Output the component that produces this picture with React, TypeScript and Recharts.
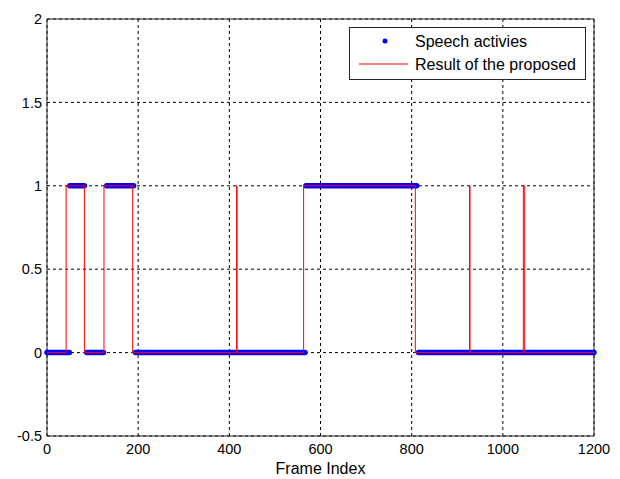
import React from 'react';
import { LineChart, Line, XAxis, YAxis, CartesianGrid, Legend, ReferenceArea, Label } from 'recharts';

const xTicks = [0, 200, 400, 600, 800, 1000, 1200];
const yTicks = [-0.5, 0, 0.5, 1, 1.5, 2];

// Ground-truth speech activity runs (frame ranges)
const speechStarts = [0, 50, 87, 131, 194, 568, 815];
const speechEnds = [49, 82, 124, 190, 566, 811, 1200];
const speechValues = [0, 1, 0, 1, 0, 1, 0];

// Result of the proposed method (step changes)
const resultFrames = [0, 42, 82, 125, 188, 416, 417, 563, 808, 927, 928, 1045, 1048, 1200];
const resultValues = [0, 1, 0, 1, 0, 1, 0, 1, 0, 1, 0, 1, 0, 0];

const legendLabels = ['Speech activies', 'Result of the proposed'];
const xLabel = 'Frame Index';

const resultData = resultFrames.map((f, i) => ({ frame: f, value: resultValues[i] }));
const speechSegments = speechStarts.map((s, i) => [
  { frame: s, value: speechValues[i] },
  { frame: speechEnds[i], value: speechValues[i] },
]);

const FONT = '"Liberation Sans", Arial, sans-serif';

const renderLegend = () => (
  <svg width={237} height={53} style={{ display: 'block' }}>
    <rect x={0.5} y={0.5} width={236} height={52} fill="#fff" stroke="#262626" />
    <circle cx={36} cy={14} r={2.5} fill="#0000ff" />
    <line x1={10} x2={59} y1={37} y2={37} stroke="#ff0000" strokeWidth={1} />
    <text x={66} y={20.4} fontSize={16} fontFamily={FONT} fill="#000">{legendLabels[0]}</text>
    <text x={66} y={43} fontSize={16} fontFamily={FONT} fill="#000">{legendLabels[1]}</text>
  </svg>
);

export default function App() {
  return (
    <div style={{ position: 'absolute', left: 0, top: 0, width: 620, height: 479, background: '#fff' }}>
      <LineChart width={620} height={479} margin={{ top: 19, right: 26, left: 0, bottom: 0 }}>
        <CartesianGrid stroke="#000" strokeDasharray="3 3" />
        <XAxis
          dataKey="frame"
          type="number"
          domain={[0, 1200]}
          ticks={xTicks}
          height={43}
          axisLine={false}
          tickLine={false}
          tickSize={0}
          tickMargin={8}
          interval={0}
          tick={{ fontSize: 14.5, fontFamily: FONT, fill: '#000' }}
          allowDuplicatedCategory={false}
        >
          <Label value={xLabel} position="insideBottom" offset={5} style={{ fontSize: 16, fontFamily: FONT, fill: '#000' }} />
        </XAxis>
        <YAxis
          type="number"
          domain={[-0.5, 2]}
          ticks={yTicks}
          width={47}
          axisLine={false}
          tickLine={false}
          tickSize={0}
          tickMargin={5}
          interval={0}
          tick={{ fontSize: 14.5, fontFamily: FONT, fill: '#000' }}
        />
        <ReferenceArea x1={0} x2={1200} y1={-0.5} y2={2} fill="none" fillOpacity={0} stroke="#262626" strokeWidth={1} />
        {speechSegments.map((seg, i) => (
          <Line
            key={'s' + i}
            data={seg}
            dataKey="value"
            type="linear"
            stroke="#0000ff"
            strokeWidth={5.5}
            strokeLinecap="round"
            dot={false}
            activeDot={false}
            isAnimationActive={false}
            legendType="none"
          />
        ))}
        <Line
          data={resultData}
          dataKey="value"
          type="stepAfter"
          stroke="#ff0000"
          strokeWidth={1}
          dot={false}
          activeDot={false}
          isAnimationActive={false}
        />
        <Legend
          layout="vertical"
          align="center"
          verticalAlign="middle"
          content={renderLegend}
          wrapperStyle={{ left: 349, top: 27, width: 237, height: 53 }}
        />
      </LineChart>
    </div>
  );
}
